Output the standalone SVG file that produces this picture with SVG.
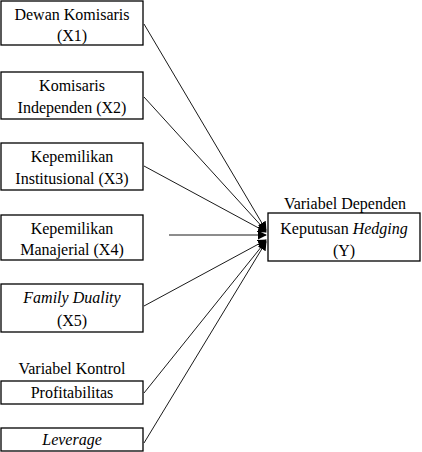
<svg xmlns="http://www.w3.org/2000/svg" width="422" height="452" viewBox="0 0 422 452" font-family="Liberation Serif, Times New Roman, serif">
<style>
rect{fill:#fff;stroke:#000;stroke-width:1.3}
text{font-family:"Liberation Serif",serif;font-size:16px;fill:#000;text-anchor:middle}
.i{font-style:italic}
#connectors line{stroke:#000;stroke-width:0.9}
</style>
<defs>
<marker id="ah" viewBox="0 0 10 10" refX="9" refY="5" markerWidth="9" markerHeight="9" markerUnits="userSpaceOnUse" orient="auto"><path d="M0,0 L10,5 L0,10 z" fill="#000"/></marker>
</defs>
<rect x="0" y="0" width="422" height="452" style="fill:#fff;stroke:none"/>
<g id="x1"><rect x="1" y="1" width="142" height="44"/><text x="72" y="20">Dewan Komisaris</text><text x="72" y="41">(X1)</text></g>
<g id="x2"><rect x="1" y="72" width="142" height="47"/><text x="72" y="91">Komisaris</text><text x="72" y="113">Independen (X2)</text></g>
<g id="x3"><rect x="1" y="143" width="142" height="47"/><text x="72" y="162">Kepemilikan</text><text x="72" y="184">Institusional (X3)</text></g>
<g id="x4"><rect x="1" y="215" width="142" height="45"/><text x="72" y="234">Kepemilikan</text><text x="72" y="255">Manajerial (X4)</text></g>
<g id="x5"><rect x="1" y="284" width="142" height="48"/><text x="72" y="303" class="i">Family Duality</text><text x="72" y="326">(X5)</text></g>
<g id="k1"><text x="72" y="374">Variabel Kontrol</text><rect x="1" y="381" width="142" height="23"/><text x="72" y="398">Profitabilitas</text></g>
<g id="k2"><rect x="1" y="428" width="142" height="23"/><text x="72" y="445" class="i">Leverage</text></g>
<g id="y"><text x="345" y="209">Variabel Dependen</text><rect x="268" y="213" width="152" height="48"/><text x="344" y="234">Keputusan <tspan class="i">Hedging</tspan></text><text x="344" y="256">(Y)</text></g>
<g id="connectors">
<line x1="144" y1="24" x2="266" y2="230" marker-end="url(#ah)"/>
<line x1="144" y1="97" x2="266" y2="231" marker-end="url(#ah)"/>
<line x1="144" y1="166" x2="266" y2="232" marker-end="url(#ah)"/>
<line x1="169" y1="235" x2="266" y2="235" marker-end="url(#ah)"/>
<line x1="144" y1="306" x2="266" y2="240" marker-end="url(#ah)"/>
<line x1="144" y1="393" x2="266" y2="241" marker-end="url(#ah)"/>
<line x1="144" y1="443" x2="266" y2="242" marker-end="url(#ah)"/>
</g>
</svg>
